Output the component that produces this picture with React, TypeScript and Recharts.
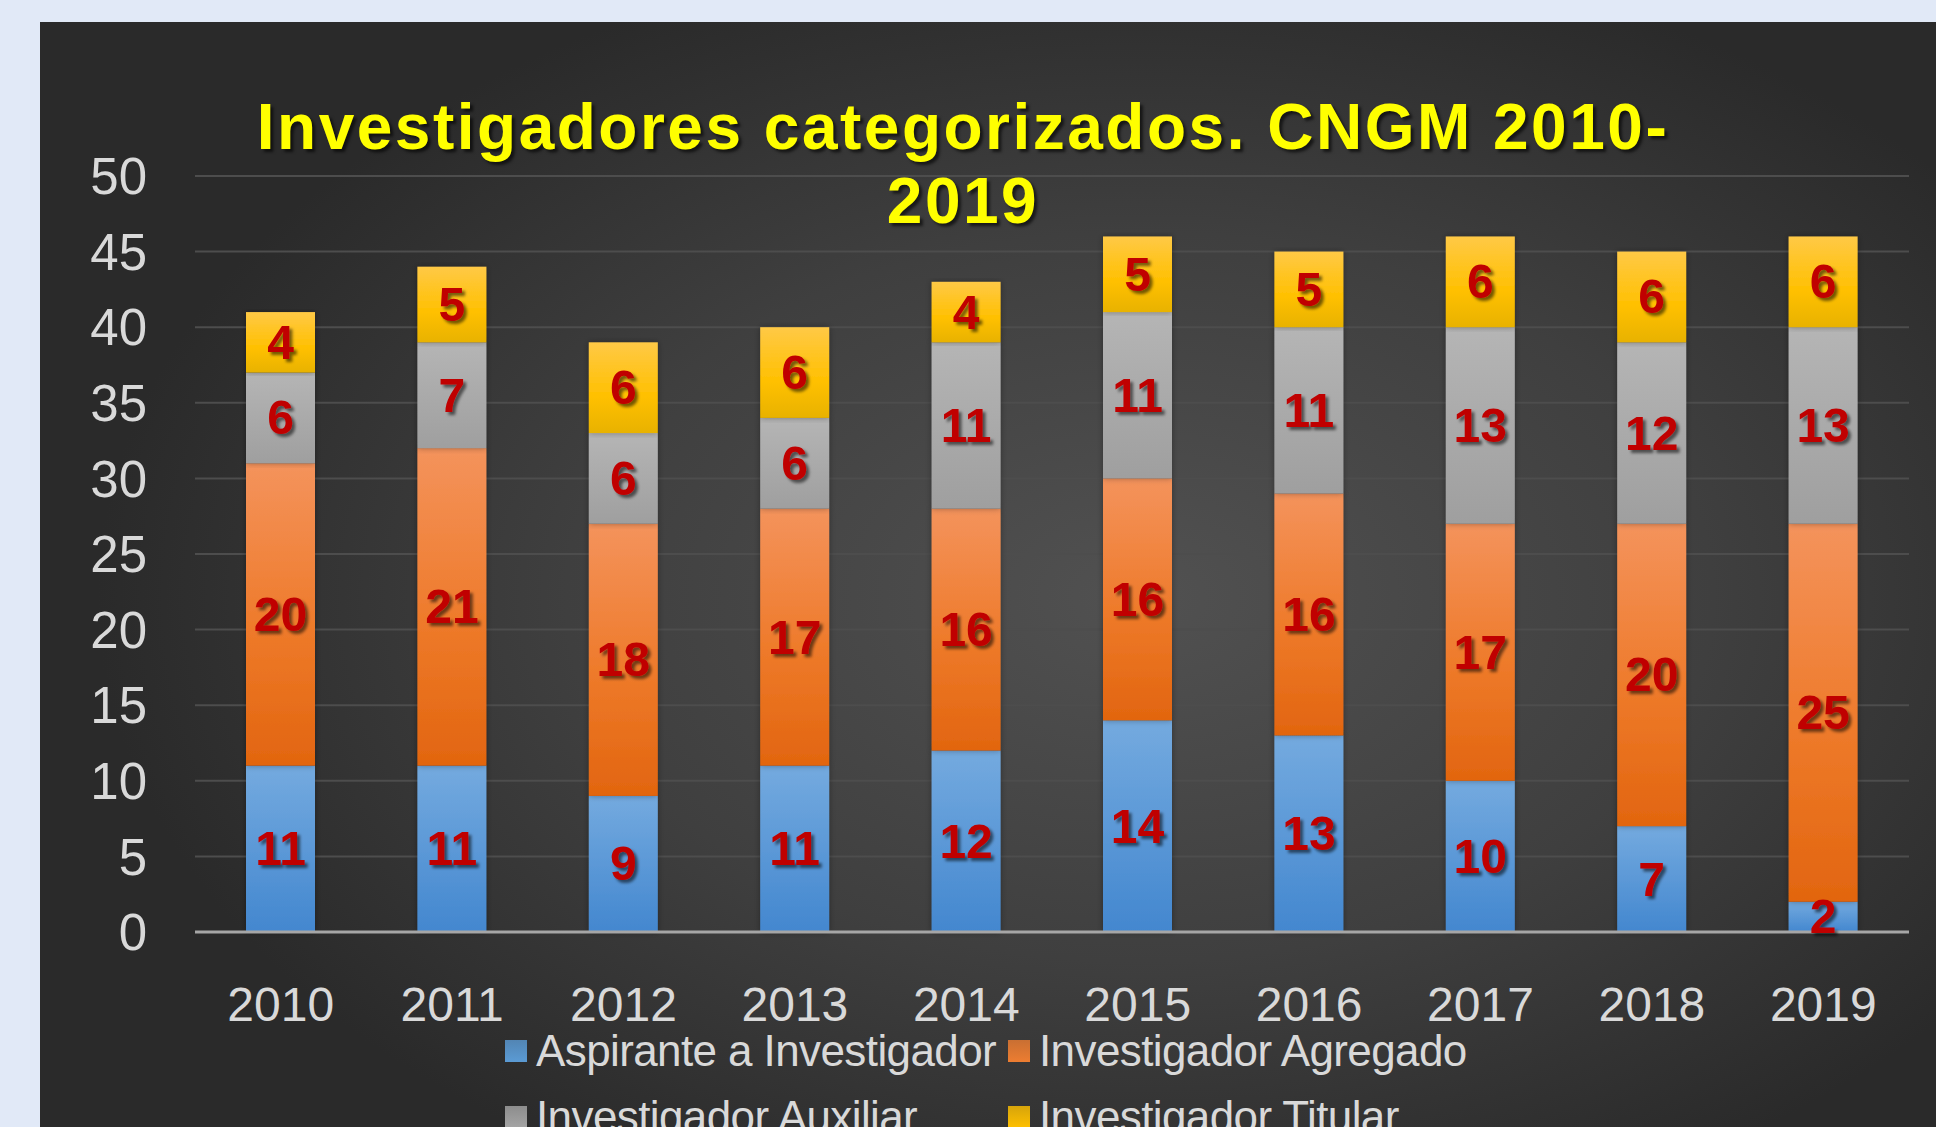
import React from 'react';
import { BarChart, Bar, XAxis, YAxis, CartesianGrid, Legend, LabelList } from 'recharts';

const years = ['2010', '2011', '2012', '2013', '2014', '2015', '2016', '2017', '2018', '2019'];
const aspirante = [11, 11, 9, 11, 12, 14, 13, 10, 7, 2];
const agregado = [20, 21, 18, 17, 16, 16, 16, 17, 20, 25];
const auxiliar = [6, 7, 6, 6, 11, 11, 11, 13, 12, 13];
const titular = [4, 5, 6, 6, 4, 5, 5, 6, 6, 6];
const yTicks = [0, 5, 10, 15, 20, 25, 30, 35, 40, 45, 50];

const series = [
  { key: 'aspirante', name: 'Aspirante a Investigador', grad: 'gBlue', swatch: '#5b9bd5' },
  { key: 'agregado', name: 'Investigador Agregado', grad: 'gOrange', swatch: '#ed7d31' },
  { key: 'auxiliar', name: 'Investigador Auxiliar', grad: 'gGray', swatch: '#a5a5a5' },
  { key: 'titular', name: 'Investigador Titular', grad: 'gYellow', swatch: '#ffc000' },
];

const data = years.map((y, i) => ({
  year: y,
  aspirante: aspirante[i],
  agregado: agregado[i],
  auxiliar: auxiliar[i],
  titular: titular[i],
}));

const FONT = '"Liberation Sans", Arial, sans-serif';

const renderLabel = (props: any) => {
  const { x, y, width, height, value } = props;
  return (
    <text
      x={x + width / 2}
      y={y + height / 2}
      textAnchor="middle"
      dominantBaseline="central"
      fill="#c00000"
      fontFamily={FONT}
      fontWeight="bold"
      fontSize={48}
      filter="url(#lblShadow)"
    >
      {value}
    </text>
  );
};

const barShape = (props: any) => {
  const { x, y, width, height, fill } = props;
  return <rect x={x} y={y} width={width} height={height} fill={fill} filter="url(#barShadow)" />;
};

const renderLegend = () => (
  <div
    style={{
      display: 'grid',
      gridTemplateColumns: '503px 503px',
      fontFamily: FONT,
      fontSize: 44,
      color: '#d9d9d9',
      lineHeight: '66px',
    }}
  >
    {series.map((s) => (
      <div key={s.key} style={{ display: 'flex', alignItems: 'center', whiteSpace: 'nowrap' }}>
        <div
          style={{
            width: 22,
            height: 22,
            marginRight: 9,
            background: `linear-gradient(${s.swatch}cc, ${s.swatch})`,
          }}
        />
        <span style={{ letterSpacing: -0.6 }}>{s.name}</span>
      </div>
    ))}
  </div>
);

export default function App() {
  return (
    <div
      style={{
        position: 'absolute',
        left: 0,
        top: 0,
        width: 1936,
        height: 1127,
        overflow: 'hidden',
        background: '#e1e9f7',
      }}
    >
      <div
        style={{
          position: 'absolute',
          left: 40,
          top: 22,
          width: 1896,
          height: 1105,
          background:
            'radial-gradient(ellipse 55% 60% at 58% 52%, #515151 0%, #3f3f3f 55%, #2a2a2a 100%)',
        }}
      />
      <div
        style={{
          position: 'absolute',
          left: 0,
          top: 0,
          width: 1936,
          height: 1127,
        }}
      >
        <BarChart
          width={1936}
          height={1127}
          data={data}
          margin={{ top: 176, right: 27, bottom: 135, left: 0 }}
          barSize={69}
        >
          <defs>
            <linearGradient id="gBlue" x1="0" y1="0" x2="0" y2="1">
              <stop offset="0%" stopColor="#74aadf" />
              <stop offset="100%" stopColor="#4387cf" />
            </linearGradient>
            <linearGradient id="gOrange" x1="0" y1="0" x2="0" y2="1">
              <stop offset="0%" stopColor="#f4935c" />
              <stop offset="55%" stopColor="#ee7a2a" />
              <stop offset="100%" stopColor="#e2650f" />
            </linearGradient>
            <linearGradient id="gGray" x1="0" y1="0" x2="0" y2="1">
              <stop offset="0%" stopColor="#b5b5b5" />
              <stop offset="100%" stopColor="#9f9f9f" />
            </linearGradient>
            <linearGradient id="gYellow" x1="0" y1="0" x2="0" y2="1">
              <stop offset="0%" stopColor="#ffc946" />
              <stop offset="60%" stopColor="#ffc000" />
              <stop offset="100%" stopColor="#e8b200" />
            </linearGradient>
            <filter id="lblShadow" x="-30%" y="-30%" width="160%" height="160%">
              <feDropShadow dx="3" dy="3" stdDeviation="1.5" floodColor="#000" floodOpacity="0.55" />
            </filter>
            <filter id="barShadow" x="-20%" y="-5%" width="140%" height="110%">
              <feDropShadow dx="0" dy="0" stdDeviation="3" floodColor="#000" floodOpacity="0.35" />
            </filter>
          </defs>
          <CartesianGrid vertical={false} stroke="#4d4d4d" strokeWidth={2} />
          <XAxis
            dataKey="year"
            axisLine={{ stroke: '#a6a6a6', strokeWidth: 3 }}
            tickLine={false}
            tickSize={0}
            tickMargin={55}
            height={60}
            tick={{ fill: '#d9d9d9', fontSize: 48, fontFamily: FONT }}
            interval={0}
          />
          <YAxis
            domain={[0, 50]}
            ticks={yTicks}
            width={195}
            axisLine={false}
            tickLine={false}
            tickSize={0}
            tickMargin={48}
            tick={{ fill: '#d9d9d9', fontSize: 51, fontFamily: FONT }}
            interval={0}
          />
          <Legend
            layout="horizontal"
            verticalAlign="middle"
            align="center"
            content={renderLegend}
            wrapperStyle={{ left: 505, top: 1018, width: 1100, height: 140 }}
          />
          {series.map((s) => (
            <Bar
              key={s.key}
              dataKey={s.key}
              name={s.name}
              stackId="a"
              fill={`url(#${s.grad})`}
              shape={barShape}
              isAnimationActive={false}
            >
              <LabelList dataKey={s.key} content={renderLabel} />
            </Bar>
          ))}
        </BarChart>
      </div>
      <div
        style={{
          position: 'absolute',
          left: 13,
          top: 90,
          width: 1900,
          textAlign: 'center',
          fontFamily: FONT,
          fontWeight: 'bold',
          fontSize: 64,
          letterSpacing: 2.5,
          lineHeight: '74px',
          color: '#ffff00',
          textShadow: '3px 3px 3px rgba(0,0,0,0.6)',
          whiteSpace: 'nowrap',
        }}
      >
        Investigadores categorizados. CNGM 2010-
        <br />
        2019
      </div>
    </div>
  );
}
